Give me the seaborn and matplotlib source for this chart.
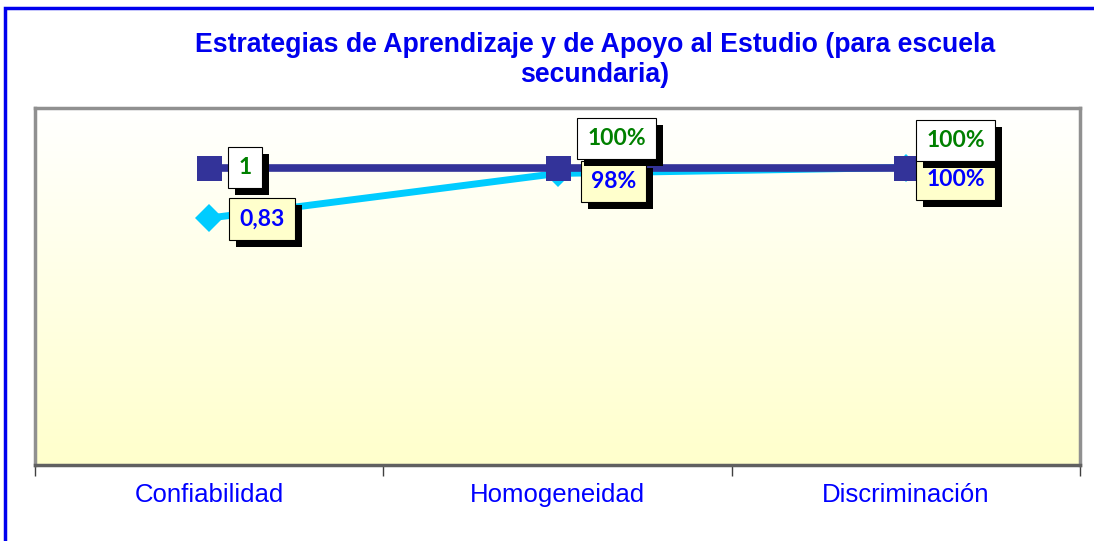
import numpy as np
import pandas as pd
import matplotlib
matplotlib.use("Agg")
import matplotlib.pyplot as plt
import matplotlib.patheffects as pe
from matplotlib.patches import Rectangle
from matplotlib.colors import LinearSegmentedColormap
import seaborn as sns

categories = ["Confiabilidad", "Homogeneidad", "Discriminación"]
serie_a = [1.0, 1.0, 1.0]
serie_b = [0.83, 0.98, 1.0]
labels_a = ["1", "100%", "100%"]
labels_b = ["0,83", "98%", "100%"]
title = "Estrategias de Aprendizaje y de Apoyo al Estudio (para escuela\nsecundaria)"

sns.set_theme(style="white")
plt.rcParams['font.family'] = ['Liberation Sans', 'DejaVu Sans']

fig = plt.figure(figsize=(10.94, 5.41), dpi=100)
fig.patch.set_facecolor("white")
ax = fig.add_axes([35/1094, 76/541, 1045/1094, 357/541])

# outer blue frame (left and top visible)
fig.patches.append(Rectangle((5/1094, -0.5), 2.0, 1 - 8/541 + 0.5, transform=fig.transFigure,
                             fill=False, edgecolor="#0000EE", linewidth=2.5, zorder=0))

# gradient background: white at top, light yellow at bottom
grad = np.linspace(0, 1, 256).reshape(-1, 1)
cmap = LinearSegmentedColormap.from_list("g", ["#FFFFFF", "#FFFFCC"])
ax.imshow(grad, cmap=cmap, aspect="auto", extent=[-0.5, 2.5, 0, 1.2], origin="upper", zorder=0)

df_a = pd.DataFrame({"x": categories, "y": serie_a})
df_b = pd.DataFrame({"x": categories, "y": serie_b})

sns.lineplot(data=df_a, x="x", y="y", ax=ax, color="#333399", linewidth=5.5, marker="s",
             markersize=18, markeredgewidth=0, sort=False, zorder=3)
sns.lineplot(data=df_b, x="x", y="y", ax=ax, color="#00CCFF", linewidth=5, marker="D",
             markersize=14, markeredgewidth=0, sort=False, zorder=2)

ax.set_xlim(-0.5, 2.5)
ax.set_ylim(0, 1.2)
ax.set_xlabel("")
ax.set_ylabel("")
ax.set_yticks([])
ax.set_xticks(range(3))
ax.set_xticklabels(categories, color="#0000FF", fontsize=18.5)
ax.set_xticks([-0.5, 0.5, 1.5, 2.5], minor=True)
ax.tick_params(axis="x", which="major", length=0, pad=13)
ax.tick_params(axis="x", which="minor", length=8, width=1, color="#404040", direction="out", bottom=True)

for s in ax.spines.values():
    s.set_edgecolor("#909090")
    s.set_linewidth(2.5)
ax.spines["bottom"].set_edgecolor("#606060")

fig.text(595/1094, 1 - 60/541, title, color="#0000EE", fontsize=19.2, fontweight="bold",
         ha="center", va="center", linespacing=1.15)

offs_a = [(36, 0), (59, 29), (50, 27)]
offs_b = [(53, -1), (56, -8), (50, -12)]

def put(i, y, txt, off, tcol, fcol):
    t = ax.annotate(txt, (i, y), xytext=off, textcoords="offset pixels", ha="center", va="center",
                    fontsize=16.5, fontweight="bold", color=tcol, family=["Lato", "DejaVu Sans"],
                    bbox=dict(boxstyle="square,pad=0.45", fc=fcol, ec="#000000", lw=0.8), zorder=5)
    t.get_bbox_patch().set_path_effects([pe.SimplePatchShadow(offset=(5, -5), shadow_rgbFace="black", alpha=1),
                                         pe.Normal()])

for i in range(3):
    put(i, serie_b[i], labels_b[i], offs_b[i], "#0000FF", "#FFFFCC")
for i in range(3):
    put(i, serie_a[i], labels_a[i], offs_a[i], "#008000", "#FFFFFF")

fig.savefig("out.png", dpi=100)
